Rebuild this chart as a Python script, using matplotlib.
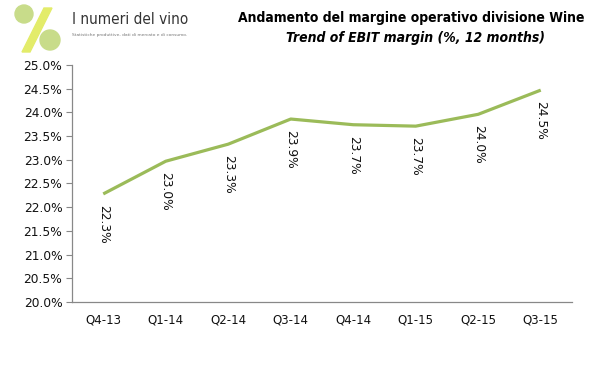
import matplotlib.pyplot as plt
from matplotlib.patches import Circle, Polygon

# Dati
trimestri = ["Q4-13", "Q1-14", "Q2-14", "Q3-14", "Q4-14", "Q1-15", "Q2-15", "Q3-15"]
margine = [22.28, 22.97, 23.33, 23.86, 23.74, 23.71, 23.96, 24.47]
etichette = ["22.3%", "23.0%", "23.3%", "23.9%", "23.7%", "23.7%", "24.0%", "24.5%"]

fig = plt.figure(figsize=(5.94, 3.70), dpi=100)
ax = fig.add_axes([72 / 594, 1 - 302 / 370, 500 / 594, 237 / 370])

x = list(range(len(trimestri)))
ax.plot(x, margine, color="#9BBB59", linewidth=2.3, solid_capstyle="butt")

# Etichette valori ruotate
for xi, yi, lab in zip(x, margine, etichette):
    ax.annotate(lab, (xi, yi), xytext=(0, -8), textcoords="offset points",
                rotation=-90, ha="center", va="top", fontsize=8.8, color="#111111")

ax.set_xlim(-0.5, len(trimestri) - 0.5)
ax.set_ylim(20, 25)
ax.set_yticks([20 + 0.5 * i for i in range(11)])
ax.set_yticklabels(["%.1f%%" % (20 + 0.5 * i) for i in range(11)], fontsize=8.8, color="#111111")
ax.set_xticks(x)
ax.set_xticklabels(trimestri, fontsize=8.5, color="#111111")
ax.tick_params(axis="x", length=0, pad=8)
ax.tick_params(axis="y", length=4, color="#888888", pad=3)
for s in ["top", "right"]:
    ax.spines[s].set_visible(False)
for s in ["left", "bottom"]:
    ax.spines[s].set_color("#888888")
    ax.spines[s].set_linewidth(0.9)

# Titolo
fig.text(411 / 594, 1 - 18 / 370, "Andamento del margine operativo divisione Wine",
         ha="center", va="center", fontsize=10, fontweight="bold",
         family="DejaVu Sans", fontstretch="condensed")
fig.text(416 / 594, 1 - 38 / 370, "Trend of EBIT margin (%, 12 months)",
         ha="center", va="center", fontsize=10, fontstyle="italic", fontweight="bold",
         family="DejaVu Sans", fontstretch="condensed")

# Logo
logo = fig.add_axes([0, 1 - 58 / 370, 190 / 594, 58 / 370])
logo.set_xlim(0, 190)
logo.set_ylim(58, 0)
logo.axis("off")
logo.add_patch(Polygon([[44, 8], [52, 8], [30, 52], [22, 52]], color="#E3EC6A"))
logo.add_patch(Circle((24, 14), 9, color="#C8DC8A"))
logo.add_patch(Circle((50, 40), 10, color="#C8DC8A"))
logo.text(72, 20, "I numeri del vino", fontsize=11, va="center", color="#333333",
          family="DejaVu Sans", fontstretch="condensed")
logo.text(72, 35, "Statistiche produttive, dati di mercato e di consumo.", fontsize=3.2,
          va="center", color="#777777")

fig.savefig("out.png", dpi=100)
